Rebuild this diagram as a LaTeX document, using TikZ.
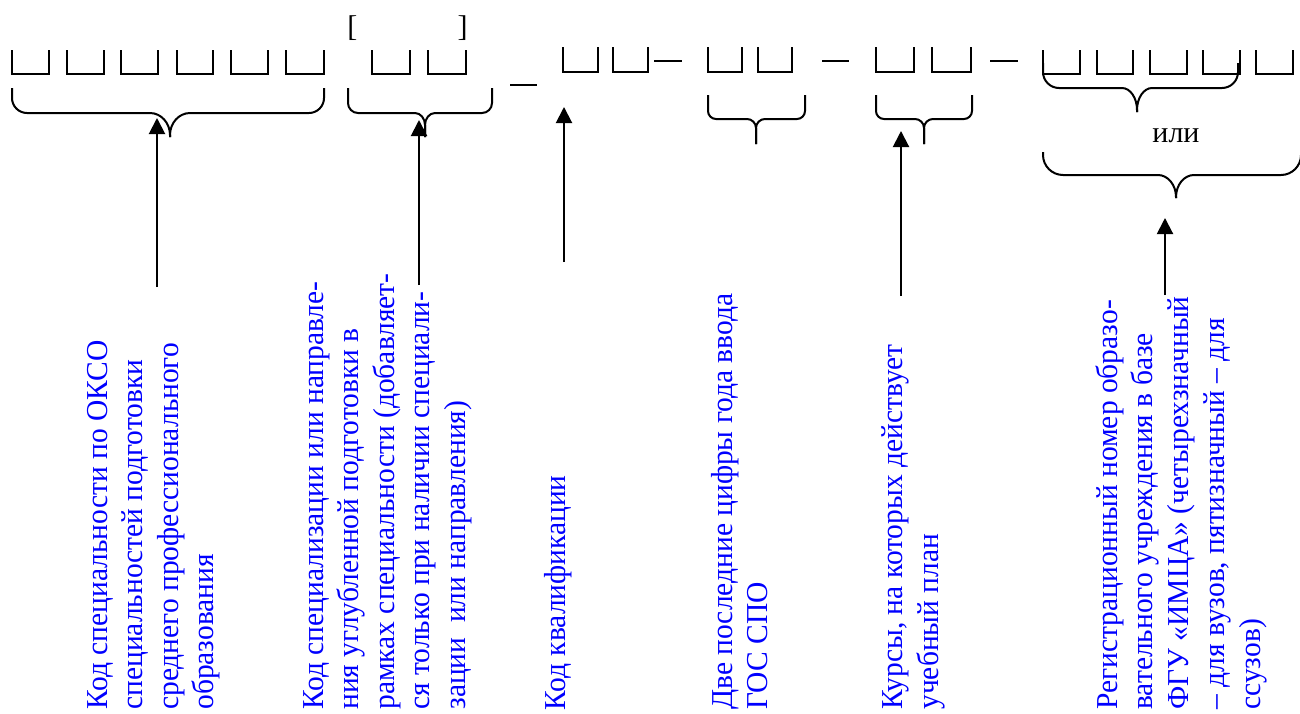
\documentclass[tikz,border=0pt]{standalone}
\usepackage{fontspec}
\setmainfont{Liberation Serif}
\newfontfamily\notefont[FakeStretch=0.97]{Liberation Serif}
\usetikzlibrary{arrows.meta}

% Brace: #1 left x, #2 right x, #3 top of ends, #4 level of the flat part,
% #5 x of the tip, #6 y of the tip, #7 corner radius, #8/#9 tip curve (horizontal/vertical)
\newcommand\codebrace[9]{%
  \draw[bracestroke]
    (#1,#3) -- (#1,#4-#7)
    .. controls (#1,#4-0.45*#7) and (#1+0.45*#7,#4) .. (#1+#7,#4)
    -- (#5-#8,#4)
    .. controls (#5-0.45*#8,#4) and (#5,#4+0.45*#9) .. (#5,#4+#9)
    -- (#5,#6);
  \draw[bracestroke]
    (#5,#6) -- (#5,#4+#9)
    .. controls (#5,#4+0.45*#9) and (#5+0.45*#8,#4) .. (#5+#8,#4)
    -- (#2-#7,#4)
    .. controls (#2-0.45*#7,#4) and (#2,#4-0.45*#7) .. (#2,#4-#7)
    -- (#2,#3);
}

% Open-top cell for one character: #1 left x, #2 right x, #3 top y, #4 bottom y
\newcommand\codecell[4]{%
  \draw[cellstroke] (#1,#3) -- (#1,#4) -- (#2,#4) -- (#2,#3);
}

\tikzset{
  cellstroke/.style={line width=1pt, line join=miter},
  bracestroke/.style={line width=1pt},
  sepdash/.style={line width=0.65pt},
  pointer/.style={line width=1pt, -{Triangle[length=8pt,width=8pt]}},
  note/.style={rotate=90, anchor=base west, inner sep=0pt, text=blue,
               font=\notefont\fontsize{15.2}{17.7}\selectfont},
  glyph/.style={inner sep=0pt, font=\fontsize{15}{17.7}\selectfont},
}

\begin{document}
\begin{tikzpicture}[x=0.5pt, y=-0.5pt]
\useasboundingbox (0,0) rectangle (1300,713);

% ---- code cells ----
\codecell{12}{49}{50}{74}
\codecell{67}{104}{50}{74}
\codecell{121}{158}{50}{74}
\codecell{177}{213}{50}{74}
\codecell{231}{268}{50}{74}
\codecell{286}{324}{50}{74}

\node[glyph, anchor=base west] (lbr) at (347,36.5) {[};
\node[glyph, anchor=base east] (rbr) at (468,36.5) {]};
\codecell{372}{410}{50}{74}
\codecell{428}{466}{50}{74}

\codecell{563}{598}{47}{72}
\codecell{613}{648}{47}{72}

\codecell{708}{742}{47}{72}
\codecell{758}{792}{47}{72}

\codecell{876}{914}{47}{72}
\codecell{932}{971}{47}{72}

\codecell{1043}{1080}{50}{74}
\codecell{1097}{1133}{50}{74}
\codecell{1150}{1187}{50}{74}
\codecell{1203}{1240}{50}{74}
\codecell{1256}{1293}{50}{74}

% ---- separators ----
\draw[sepdash] (510,85) -- (537,85);
\draw[sepdash] (654,61) -- (682,61);
\draw[sepdash] (822,61) -- (849,61);
\draw[sepdash] (990,61) -- (1018,61);

% ---- braces ----
\codebrace{12}{324}{88}{113}{170}{137}{15}{20}{22}
\codebrace{348}{492}{88}{113}{425}{137}{10}{10}{12}
\codebrace{708}{805}{95}{119}{756}{144}{8}{9}{9}
\codebrace{876}{972}{95}{119}{924}{144}{8}{9}{9}
\codebrace{1043}{1238}{63}{88}{1137}{112}{16}{15}{22}
\codebrace{1043}{1301}{152}{175}{1176}{198}{20}{18}{22}

\node[glyph, anchor=base] (ili) at (1176,142) {или};

% ---- pointers ----
\coordinate (p1s) at (157,287);  \coordinate (p1e) at (157,118);
\coordinate (p2s) at (419,285);  \coordinate (p2e) at (419,120);
\coordinate (p3s) at (564,262);  \coordinate (p3e) at (564,107);
\coordinate (p4s) at (901,296);  \coordinate (p4e) at (901,131);
\coordinate (p5s) at (1165,295); \coordinate (p5e) at (1165,218);
\draw[pointer] (p1s) -- (p1e);
\draw[pointer] (p2s) -- (p2e);
\draw[pointer] (p3s) -- (p3e);
\draw[pointer] (p4s) -- (p4e);
\draw[pointer] (p5s) -- (p5e);

% ---- captions ----
\node[note] (c1a) at (107.5,710) {Код специальности по ОКСО};
\node[note] (c1b) at (142.8,710) {специальностей подготовки};
\node[note] (c1c) at (178.1,710) {среднего профессионального};
\node[note] (c1d) at (213.4,710) {образования};

\node[note] (c2a) at (323,710) {Код специализации или направле-};
\node[note] (c2b) at (358.5,710) {ния углубленной подготовки в};
\node[note] (c2c) at (394,710) {рамках специальности (добавляет-};
\node[note] (c2d) at (429.5,710) {ся только при наличии специали-};
\node[note] (c2e) at (465,710) {зации\ \ или направления)};

\node[note] (c3a) at (565,711) {Код квалификации};

\node[note] (c4a) at (732,710) {Две последние цифры года ввода};
\node[note] (c4b) at (767,710) {ГОС СПО};

\node[note] (c5a) at (902,710) {Курсы, на которых действует};
\node[note] (c5b) at (938,710) {учебный план};

\node[note] (c6a) at (1117,710) {Регистрационный номер образо-};
\node[note] (c6b) at (1152.5,710) {вательного учреждения в базе};
\node[note] (c6c) at (1188,710) {ФГУ «ИМЦА» (четырехзначный};
\node[note] (c6d) at (1224.5,710) {– для вузов, пятизначный – для};
\node[note] (c6e) at (1260,710) {ссузов)};
\end{tikzpicture}
\end{document}
